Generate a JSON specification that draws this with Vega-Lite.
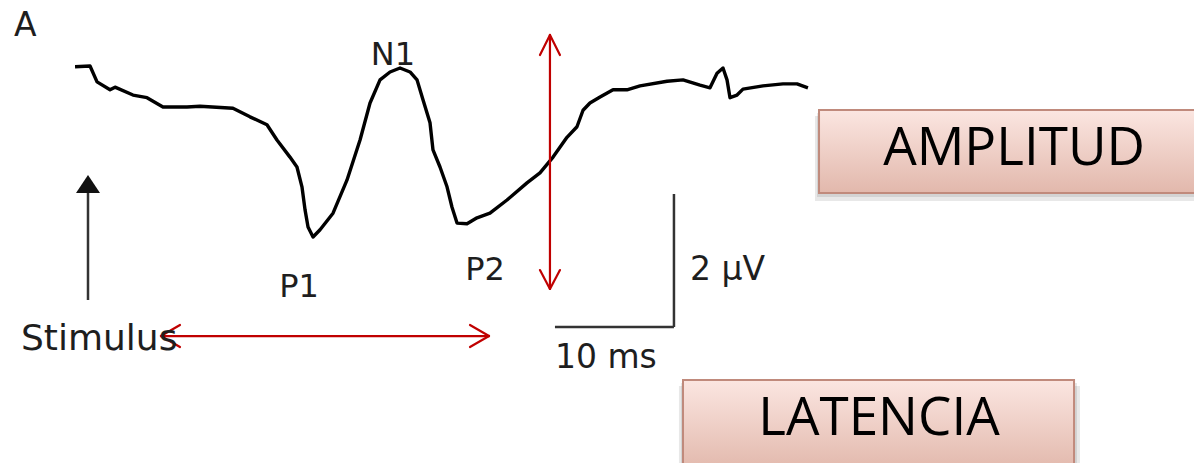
{
  "$schema": "https://vega.github.io/schema/vega-lite/v6.json",
  "width": 1194,
  "height": 463,
  "autosize": {"type": "none"},
  "padding": 0,
  "background": "white",
  "config": {"view": {"stroke": null}},
  "datasets": {
    "wave": [
      {"t": -1.09, "v": -2.02}, {"t": 0.17, "v": -2.03}, {"t": 0.76, "v": -1.79}, {"t": 1.85, "v": -1.67},
      {"t": 2.27, "v": -1.71}, {"t": 3.78, "v": -1.59}, {"t": 4.96, "v": -1.55}, {"t": 6.30, "v": -1.41},
      {"t": 8.32, "v": -1.41}, {"t": 9.41, "v": -1.42}, {"t": 12.18, "v": -1.39}, {"t": 13.61, "v": -1.26},
      {"t": 15.04, "v": -1.14}, {"t": 15.88, "v": -0.91}, {"t": 16.97, "v": -0.65}, {"t": 17.56, "v": -0.50},
      {"t": 17.98, "v": -0.20}, {"t": 18.24, "v": 0.15}, {"t": 18.49, "v": 0.41}, {"t": 18.91, "v": 0.56},
      {"t": 19.50, "v": 0.45}, {"t": 20.59, "v": 0.20}, {"t": 21.76, "v": -0.30}, {"t": 22.86, "v": -0.91},
      {"t": 23.70, "v": -1.47}, {"t": 24.54, "v": -1.82}, {"t": 25.38, "v": -1.94}, {"t": 26.22, "v": -2.00},
      {"t": 27.06, "v": -1.94}, {"t": 27.65, "v": -1.82}, {"t": 28.15, "v": -1.52}, {"t": 28.74, "v": -1.17},
      {"t": 28.99, "v": -0.76}, {"t": 29.58, "v": -0.50}, {"t": 30.17, "v": -0.20}, {"t": 30.59, "v": 0.11},
      {"t": 31.01, "v": 0.35}, {"t": 31.85, "v": 0.36}, {"t": 32.69, "v": 0.27}, {"t": 33.78, "v": 0.20},
      {"t": 35.21, "v": 0.00}, {"t": 36.89, "v": -0.26}, {"t": 37.98, "v": -0.41}, {"t": 39.08, "v": -0.65},
      {"t": 40.25, "v": -0.95}, {"t": 41.09, "v": -1.11}, {"t": 41.60, "v": -1.36}, {"t": 42.18, "v": -1.47},
      {"t": 43.03, "v": -1.56}, {"t": 44.12, "v": -1.67}, {"t": 45.29, "v": -1.67}, {"t": 46.39, "v": -1.73},
      {"t": 48.66, "v": -1.80}, {"t": 50.00, "v": -1.82}, {"t": 51.43, "v": -1.74}, {"t": 52.27, "v": -1.70},
      {"t": 52.86, "v": -1.92}, {"t": 53.36, "v": -2.00}, {"t": 53.70, "v": -1.82}, {"t": 53.95, "v": -1.55},
      {"t": 54.54, "v": -1.59}, {"t": 55.04, "v": -1.68}, {"t": 56.72, "v": -1.73}, {"t": 58.40, "v": -1.76},
      {"t": 59.58, "v": -1.76}, {"t": 60.50, "v": -1.70}
    ],
    "shadows": [
      {"x": 61.26, "x2": 93.5, "y": -1.318, "y2": -0.045},
      {"x": 61.09, "x2": 93.5, "y": -1.273, "y2": 0.015},
      {"x": 49.83, "x2": 83.11, "y": 2.773, "y2": 4.09},
      {"x": 49.66, "x2": 83.36, "y": 2.818, "y2": 4.09}
    ],
    "boxes": [
      {"x": 61.43, "x2": 93.5, "y": -1.364, "y2": -0.106},
      {"x": 50.0, "x2": 82.86, "y": 2.727, "y2": 4.1}
    ],
    "boxText": [
      {"x": 77.82, "y": -0.53, "label": "AMPLITUD"},
      {"x": 66.47, "y": 3.561, "label": "LATENCIA"}
    ],
    "grayRules": [
      {"x": 0, "x2": 0, "y": -0.106, "y2": 1.515},
      {"x": 49.24, "x2": 49.24, "y": -0.091, "y2": 1.924},
      {"x": 39.24, "x2": 49.24, "y": 1.924, "y2": 1.924}
    ],
    "stim": [{"x": 0, "y": -0.242}],
    "red": [
      {"x": 38.82, "x2": 38.82, "y": -2.5, "y2": 1.348},
      {"x": 38.82, "x2": 37.98, "y": -2.5, "y2": -2.197},
      {"x": 38.82, "x2": 39.66, "y": -2.5, "y2": -2.197},
      {"x": 38.82, "x2": 37.98, "y": 1.348, "y2": 1.061},
      {"x": 38.82, "x2": 39.66, "y": 1.348, "y2": 1.061},
      {"x": 6.13, "x2": 33.70, "y": 2.061, "y2": 2.061},
      {"x": 6.13, "x2": 7.73, "y": 2.061, "y2": 1.894},
      {"x": 6.13, "x2": 7.73, "y": 2.061, "y2": 2.227},
      {"x": 33.70, "x2": 32.10, "y": 2.061, "y2": 1.894},
      {"x": 33.70, "x2": 32.10, "y": 2.061, "y2": 2.227}
    ],
    "centerLabels": [
      {"x": 25.63, "y": -2.045, "label": "N1"},
      {"x": 17.73, "y": 1.47, "label": "P1"},
      {"x": 33.36, "y": 1.212, "label": "P2"}
    ],
    "leftLabels": [
      {"x": -6.22, "y": -2.485, "label": "A"},
      {"x": 50.59, "y": 1.212, "label": "2 µV"},
      {"x": 39.24, "y": 2.545, "label": "10 ms"}
    ],
    "stimLabel": [
      {"x": -5.63, "y": 2.273, "label": "Stimulus"}
    ]
  },
  "layer": [
    {
      "data": {"name": "shadows"},
      "mark": {"type": "rect", "fill": "#000000", "opacity": 0.09},
      "encoding": {
        "x": {"field": "x", "type": "quantitative", "scale": {"domain": [-7.395, 92.941], "nice": false, "zero": false}, "axis": null},
        "x2": {"field": "x2"},
        "y": {"field": "y", "type": "quantitative", "scale": {"domain": [-3.0303, 3.9848], "nice": false, "zero": false, "reverse": true}, "axis": null},
        "y2": {"field": "y2"}
      }
    },
    {
      "data": {"name": "boxes"},
      "mark": {
        "type": "rect",
        "fill": {"gradient": "linear", "x1": 0, "y1": 0, "x2": 0, "y2": 1,
          "stops": [{"offset": 0, "color": "#fbe6e1"}, {"offset": 1, "color": "#e2b8ac"}]},
        "stroke": "#c08a7c",
        "strokeWidth": 2
      },
      "encoding": {
        "x": {"field": "x", "type": "quantitative", "axis": null},
        "x2": {"field": "x2"},
        "y": {"field": "y", "type": "quantitative", "axis": null},
        "y2": {"field": "y2"}
      }
    },
    {
      "data": {"name": "boxText"},
      "mark": {"type": "text", "font": "Open Sans", "fontSize": 53, "align": "center", "baseline": "alphabetic", "color": "#000000"},
      "encoding": {
        "x": {"field": "x", "type": "quantitative", "axis": null},
        "y": {"field": "y", "type": "quantitative", "axis": null},
        "text": {"field": "label"}
      }
    },
    {
      "data": {"name": "wave"},
      "mark": {"type": "line", "color": "#000000", "strokeWidth": 3.4, "strokeJoin": "round"},
      "encoding": {
        "x": {"field": "t", "type": "quantitative", "axis": null},
        "y": {"field": "v", "type": "quantitative", "axis": null},
        "order": {"field": "t"}
      }
    },
    {
      "data": {"name": "grayRules"},
      "mark": {"type": "rule", "color": "#333333", "strokeWidth": 2.5},
      "encoding": {
        "x": {"field": "x", "type": "quantitative", "axis": null},
        "x2": {"field": "x2"},
        "y": {"field": "y", "type": "quantitative", "axis": null},
        "y2": {"field": "y2"}
      }
    },
    {
      "data": {"name": "stim"},
      "mark": {"type": "point", "shape": "M0,-0.75L1,0.75L-1,0.75Z", "size": 576, "filled": true, "color": "#111111", "opacity": 1, "strokeWidth": 0},
      "encoding": {
        "x": {"field": "x", "type": "quantitative", "axis": null},
        "y": {"field": "y", "type": "quantitative", "axis": null}
      }
    },
    {
      "data": {"name": "red"},
      "mark": {"type": "rule", "color": "#c00000", "strokeWidth": 2.2, "strokeCap": "round"},
      "encoding": {
        "x": {"field": "x", "type": "quantitative", "axis": null},
        "x2": {"field": "x2"},
        "y": {"field": "y", "type": "quantitative", "axis": null},
        "y2": {"field": "y2"}
      }
    },
    {
      "data": {"name": "centerLabels"},
      "mark": {"type": "text", "font": "DejaVu Sans", "fontSize": 32, "align": "center", "baseline": "alphabetic", "color": "#1e1e1e"},
      "encoding": {
        "x": {"field": "x", "type": "quantitative", "axis": null},
        "y": {"field": "y", "type": "quantitative", "axis": null},
        "text": {"field": "label"}
      }
    },
    {
      "data": {"name": "leftLabels"},
      "mark": {"type": "text", "font": "DejaVu Sans", "fontSize": 33, "align": "left", "baseline": "alphabetic", "color": "#1e1e1e"},
      "encoding": {
        "x": {"field": "x", "type": "quantitative", "axis": null},
        "y": {"field": "y", "type": "quantitative", "axis": null},
        "text": {"field": "label"}
      }
    },
    {
      "data": {"name": "stimLabel"},
      "mark": {"type": "text", "font": "DejaVu Sans", "fontSize": 36, "align": "left", "baseline": "alphabetic", "color": "#1e1e1e"},
      "encoding": {
        "x": {"field": "x", "type": "quantitative", "axis": null},
        "y": {"field": "y", "type": "quantitative", "axis": null},
        "text": {"field": "label"}
      }
    }
  ]
}
